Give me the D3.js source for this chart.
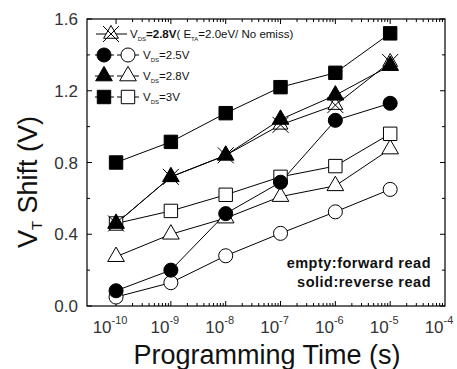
<!DOCTYPE html>
<html>
<head>
<meta charset="utf-8">
<script src="https://cdn.jsdelivr.net/npm/d3@7"></script>
<style>
  body { margin: 0; background: #fff; }
  svg text { font-family: "Liberation Sans", Arial, sans-serif; fill: #111; }
  .serie { fill: none; stroke: #000; stroke-width: 1; }
  .tick { stroke: #000; stroke-width: 1; }
</style>
</head>
<body>
<svg id="vis" width="457" height="369"></svg>
<script>
// programming times (s)
const times = [1e-10, 1e-9, 1e-8, 1e-7, 1e-6, 1e-5];
const decades = [-10, -9, -8, -7, -6, -5, -4];
const yTicks = [0.0, 0.4, 0.8, 1.2, 1.6];

// VT shift values (V)
const noEmiss28 = [0.46, 0.72, 0.84, 1.01, 1.12, 1.36];
const rev25 = [0.085, 0.20, 0.515, 0.69, 1.035, 1.13];
const fwd25 = [0.05, 0.13, 0.28, 0.405, 0.525, 0.65];
const rev28 = [0.46, 0.72, 0.84, 1.04, 1.175, 1.34];
const fwd28 = [0.275, 0.40, 0.49, 0.61, 0.67, 0.875];
const rev30 = [0.80, 0.915, 1.075, 1.22, 1.30, 1.52];
const fwd30 = [0.46, 0.53, 0.62, 0.72, 0.78, 0.96];

function drawChart() {
  const svg = d3.select("svg#vis");
  const frame = { left: 87, right: 445, top: 19, bottom: 306 };

  const x = d3.scaleLog()
    .domain([Math.pow(10, -10.53), 1e-4])
    .range([frame.left, frame.right]);
  const y = d3.scaleLinear()
    .domain([0, 1.6])
    .range([frame.bottom, frame.top]);

  // frame
  svg.append("rect")
    .attr("x", frame.left).attr("y", frame.top)
    .attr("width", frame.right - frame.left)
    .attr("height", frame.bottom - frame.top)
    .attr("fill", "none").attr("stroke", "#000").attr("stroke-width", 1.2);

  drawTicks();
  drawSeries();
  drawLegend();
  drawLabels();

  function drawTicks() {
    const g = svg.append("g");
    // log ticks on bottom and top, pointing inwards
    decades.slice(0, -1).forEach(function(p) {
      for (let m = 1; m < 10; m++) {
        const v = m * Math.pow(10, p);
        if (v < x.domain()[0]) continue;
        const len = m === 1 ? 5 : 3;
        const px = x(v);
        g.append("line").attr("class", "tick")
          .attr("x1", px).attr("x2", px)
          .attr("y1", frame.bottom).attr("y2", frame.bottom - len);
        g.append("line").attr("class", "tick")
          .attr("x1", px).attr("x2", px)
          .attr("y1", frame.top).attr("y2", frame.top + len);
      }
    });
    // linear ticks on left and right
    d3.range(0, 1.61, 0.2).forEach(function(v) {
      const len = Math.abs(v / 0.4 - Math.round(v / 0.4)) < 1e-6 ? 5 : 3;
      const py = y(v);
      g.append("line").attr("class", "tick")
        .attr("x1", frame.left).attr("x2", frame.left + len)
        .attr("y1", py).attr("y2", py);
      g.append("line").attr("class", "tick")
        .attr("x1", frame.right).attr("x2", frame.right - len)
        .attr("y1", py).attr("y2", py);
    });

    // y tick labels
    g.selectAll("text.ylab")
      .data(yTicks)
      .enter()
      .append("text")
      .attr("class", "ylab")
      .attr("x", 78)
      .attr("y", d => y(d) + 6)
      .attr("text-anchor", "end")
      .style("font-size", "17px")
      .style("fill", "#333")
      .text(d => d.toFixed(1));

    // x tick labels: 10^p
    const xl = g.selectAll("text.xlab")
      .data(decades)
      .enter()
      .append("text")
      .attr("class", "xlab")
      .attr("x", d => x(Math.pow(10, d)) - 6)
      .attr("y", 333)
      .attr("text-anchor", "middle")
      .style("font-size", "17px")
      .style("fill", "#333");
    xl.append("tspan").text("10");
    xl.append("tspan")
      .attr("dy", -9)
      .style("font-size", "11px")
      .text(d => String(d));
  }

  function markerPath(kind) {
    const sym = {
      circle: d3.symbol(d3.symbolCircle, 155),
      square: d3.symbol(d3.symbolSquare, 180),
      triangle: d3.symbol(d3.symbolTriangle, 120)
    };
    if (kind === "star") {
      return d3.symbol(d3.symbolTriangle, 95)() + "M-8,-8L8,8M8,-8L-8,8";
    }
    return sym[kind]();
  }

  function drawSeries() {
    const series = [
      { vals: fwd25, kind: "circle", fill: "#fff" },
      { vals: fwd28, kind: "triangle", fill: "#fff" },
      { vals: fwd30, kind: "square", fill: "#fff" },
      { vals: rev25, kind: "circle", fill: "#000" },
      { vals: rev30, kind: "square", fill: "#000" },
      { vals: noEmiss28, kind: "star", fill: "#fff" },
      { vals: rev28, kind: "triangle", fill: "#000" }
    ];
    const line = d3.line()
      .x((d, i) => x(times[i]))
      .y(d => y(d));

    const g = svg.append("g");
    series.forEach(function(s) {
      g.append("path")
        .datum(s.vals)
        .attr("class", "serie")
        .attr("d", line);
    });
    series.forEach(function(s) {
      g.selectAll(null)
        .data(s.vals)
        .enter()
        .append("path")
        .attr("transform", (d, i) => "translate(" + x(times[i]) + "," + y(d) + ")")
        .attr("d", markerPath(s.kind))
        .attr("fill", s.fill)
        .attr("stroke", "#000")
        .attr("stroke-width", 1);
    });
  }

  function drawLegend() {
    const g = svg.append("g");
    const rows = [
      { y: 34 }, { y: 55, kind: "circle" }, { y: 76, kind: "triangle" }, { y: 97, kind: "square" }
    ];

    // row 1: single star marker
    g.append("line").attr("class", "serie")
      .attr("x1", 96).attr("x2", 127).attr("y1", rows[0].y).attr("y2", rows[0].y);
    g.append("path")
      .attr("transform", translate(111, rows[0].y))
      .attr("d", markerPath("star"))
      .attr("fill", "#fff").attr("stroke", "#000");
    const t1 = g.append("text")
      .attr("x", 130).attr("y", rows[0].y + 4)
      .style("font-size", "11.5px");
    t1.append("tspan").text("V");
    t1.append("tspan").attr("dy", 3).style("font-size", "6px").text("DS");
    t1.append("tspan").attr("dy", -3).style("font-weight", "bold").text("=2.8V");
    t1.append("tspan").text("( E");
    t1.append("tspan").attr("dy", 3).style("font-size", "6px").text("TA");
    t1.append("tspan").attr("dy", -3).text("=2.0eV/ No emiss)");

    const labels = ["=2.5V", "=2.8V", "=3V"];
    rows.slice(1).forEach(function(r, i) {
      g.append("line").attr("class", "serie")
        .attr("x1", 95).attr("x2", 114).attr("y1", r.y).attr("y2", r.y);
      g.append("line").attr("class", "serie")
        .attr("x1", 117).attr("x2", 139).attr("y1", r.y).attr("y2", r.y);
      g.append("path")
        .attr("transform", translate(104, r.y))
        .attr("d", markerPath(r.kind))
        .attr("fill", "#000").attr("stroke", "#000");
      g.append("path")
        .attr("transform", translate(128, r.y))
        .attr("d", markerPath(r.kind))
        .attr("fill", "#fff").attr("stroke", "#000");
      const t = g.append("text")
        .attr("x", 143).attr("y", r.y + 4)
        .style("font-size", "11.5px");
      t.append("tspan").text("V");
      t.append("tspan").attr("dy", 3).style("font-size", "6px").text("DS");
      t.append("tspan").attr("dy", -3).text(labels[i]);
    });
  }

  function drawLabels() {
    // read mode note
    svg.append("text")
      .attr("x", 431).attr("y", 268)
      .attr("text-anchor", "end")
      .style("font-size", "14.5px").style("font-weight", "bold")
      .style("letter-spacing", "0.5px")
      .text("empty:forward read");
    svg.append("text")
      .attr("x", 431).attr("y", 287)
      .attr("text-anchor", "end")
      .style("font-size", "14.5px").style("font-weight", "bold")
      .style("letter-spacing", "0.5px")
      .text("solid:reverse read");

    // axis titles
    svg.append("text")
      .attr("x", 267).attr("y", 364)
      .attr("text-anchor", "middle")
      .style("font-size", "27px")
      .text("Programming Time (s)");

    const yt = svg.append("text")
      .attr("transform", "translate(37,182) rotate(-90)")
      .attr("text-anchor", "middle")
      .style("font-size", "27px");
    yt.append("tspan").text("V");
    yt.append("tspan").attr("dy", 5).style("font-size", "15px").text("T");
    yt.append("tspan").attr("dy", -5).text(" Shift (V)");
  }

  function translate(tx, ty) {
    return "translate(" + String(tx) + "," + String(ty) + ")";
  }
}

drawChart();
</script>
</body>
</html>
